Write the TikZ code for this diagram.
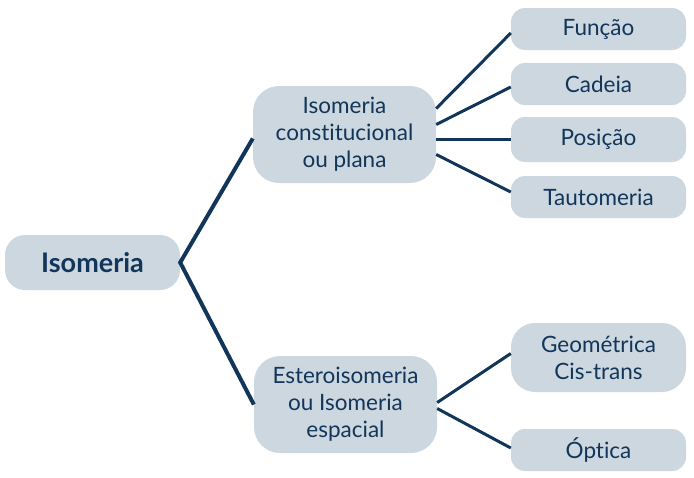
\documentclass[tikz,border=0pt]{standalone}
\usepackage{fontspec}
\setmainfont[Ligatures=NoCommon]{Lato}
\definecolor{boxfill}{HTML}{CDD7E0}
\definecolor{navy}{HTML}{12365A}
\begin{document}
\begin{tikzpicture}[x=1pt,y=-1pt,
  box/.style={fill=boxfill, text=navy, inner sep=0pt, align=center,
    font=\fontsize{22.5}{27}\selectfont},
  leaf/.style={box, minimum width=175pt, minimum height=42pt, rounded corners=14pt},
  mid/.style={box, minimum width=183pt, minimum height=97pt, rounded corners=26pt},
  root/.style={box, minimum width=175pt, minimum height=55pt, rounded corners=20pt,
    font=\fontsize{27}{30}\selectfont\bfseries},
  link/.style={draw=navy, line width=3pt},
  trunk/.style={draw=navy, line width=4pt}]
\useasboundingbox (0,0) rectangle (694,477);
\node[root] (iso) at (92.5,262.5) {Isomeria};
\node[mid] (cons) at (344.5,134.5) {Isomeria\\constitucional\\ou plana};
\node[mid] (est) at (345.5,404.5) {Esteroisomeria\\ou Isomeria\\espacial};
\node[leaf] (fun) at (598.5,29) {Função};
\node[leaf] (cad) at (598.5,84) {Cadeia};
\node[leaf, minimum height=45pt] (pos) at (598.5,139.5) {Posição};
\node[leaf] (tau) at (598.5,197) {Tautomeria};
\node[leaf, minimum height=69pt, rounded corners=24pt] (geo) at (598.5,357.5) {Geométrica\\Cis-trans};
\node[leaf] (opt) at (598.5,450) {Óptica};
\draw[trunk] ([yshift=-4pt]cons.west) -- (iso.east) -- (est.west);
\draw[link] ([yshift=26pt]cons.east) -- ([yshift=-4pt]fun.west);
\draw[link] ([yshift=10pt]cons.east) -- ([yshift=-3pt]cad.west);
\draw[link] ([yshift=-5pt]cons.east) -- (pos.west);
\draw[link] ([yshift=-20pt]cons.east) -- ([yshift=5pt]tau.west);
\draw[link] ([yshift=2pt]est.east) -- ([yshift=4pt]geo.west);
\draw[link] ([yshift=-4pt]est.east) -- ([yshift=2pt]opt.west);
\end{tikzpicture}
\end{document}
